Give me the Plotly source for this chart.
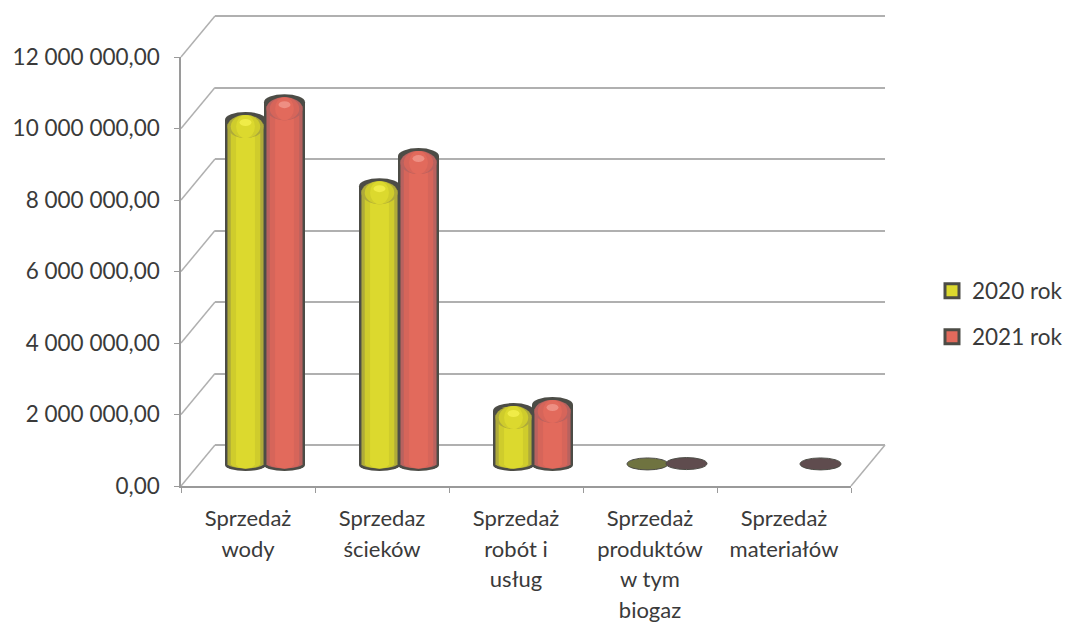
import plotly.graph_objects as go

categories = ["Sprzedaż wody", "Sprzedaz ścieków", "Sprzedaż robót i usług",
              "Sprzedaż produktów w tym biogaz", "Sprzedaż materiałów"]
category_lines = [["Sprzedaż", "wody"], ["Sprzedaz", "ścieków"], ["Sprzedaż", "robót i", "usług"],
                  ["Sprzedaż", "produktów", "w tym", "biogaz"], ["Sprzedaż", "materiałów"]]
values_2020 = [9650000, 7800000, 1510000, 30000, None]
values_2021 = [10150000, 8640000, 1680000, 40000, 30000]
y_ticks = [0, 2000000, 4000000, 6000000, 8000000, 10000000, 12000000]
y_tick_labels = ["0,00", "2 000 000,00", "4 000 000,00", "6 000 000,00",
                 "8 000 000,00", "10 000 000,00", "12 000 000,00"]

W, H = 1068, 623
FONT = "Lato"
TXT = "#3a3a3a"
GRID = "#b0b0b0"
AXIS = "#9a9a9a"
EDGE = "#4c4c46"
LEFT, RIGHT = 181, 851
FRONT_Y0, FRONT_Y12 = 486, 57
DX, DY = 34, 41
PX_PER_VAL = (FRONT_Y0 - FRONT_Y12) / 12000000
BAR_W = 41
CAT_W = (RIGHT - LEFT) / 5
STEP = 39 / CAT_W
BW = BAR_W / CAT_W
PAD = 200000


def dx(l, r):
    return [l / W, r / W]


def dy(top, bot):
    return [1 - bot / H, 1 - top / H]


def px(x):
    return x / W


def py(y):
    return 1 - y / H


fig = go.Figure()
x_range = [-0.5, 4.5]
y_range = [0, 12000000]
styles = {
    "2020 rok": dict(vals=values_2020, shift=-STEP / 2, base="#aeaa3a", mid="#cfcc2c", core="#dcd92e",
                     hi="#f0ec48", tiny="#6f7340"),
    "2021 rok": dict(vals=values_2021, shift=STEP / 2, base="#b8625f", mid="#d6655a", core="#e26a5c",
                     hi="#ee8f83", tiny="#5f4c4e"),
}

# back wall and front axis subplots (empty traces keep the axes alive)
fig.add_trace(go.Scatter(x=categories, y=[None] * 5, xaxis="x", yaxis="y", showlegend=False, hoverinfo="skip"))
fig.add_trace(go.Scatter(x=categories, y=[None] * 5, xaxis="x2", yaxis="y2", showlegend=False, hoverinfo="skip"))

shapes = []
for i, (name, s) in enumerate(styles.items()):
    legend_id = "legend" if i == 0 else "legend2"
    visible_vals = [v if (v or 0) >= 100000 else None for v in s["vals"]]
    layers = ((1.0, EDGE), (0.88, s["base"]), (0.72, s["mid"]), (0.46, s["core"]))
    for n, (frac, col) in enumerate(layers):
        fig.add_trace(go.Bar(x=categories, y=visible_vals, name=name, width=BW * frac,
                             offset=s["shift"] - BW * frac / 2, xaxis="x3", yaxis="y3",
                             showlegend=False, hoverinfo="skip" if n else None,
                             marker=dict(color=col, line=dict(width=0))))
    # legend swatch
    fig.add_trace(go.Scatter(x=categories, y=[None] * 5, name=name, mode="markers", xaxis="x3", yaxis="y3",
                             legend=legend_id, hoverinfo="skip",
                             marker=dict(symbol="square", size=14, color=s["core"], line=dict(color=EDGE, width=3))))
    for c, v in zip(categories, s["vals"]):
        if not v:
            continue
        cx = categories.index(c) + s["shift"]
        common = dict(type="circle", xref="x3", yref="y3", xsizemode="pixel", ysizemode="pixel", xanchor=cx)
        if v < 100000:
            shapes.append(dict(common, yanchor=v, x0=-BAR_W / 2, x1=BAR_W / 2, y0=-6, y1=6, layer="above",
                               fillcolor=s["tiny"], line=dict(color=EDGE, width=1)))
            continue
        # bottom of the cylinder, below the body so only the lower half shows
        shapes.append(dict(common, yanchor=0, x0=-BAR_W / 2, x1=BAR_W / 2, y0=-6, y1=6, layer="below",
                           fillcolor=EDGE, line=dict(width=0)))
        for frac, col in layers[1:]:
            half = BAR_W * frac / 2
            shapes.append(dict(common, yanchor=0, x0=-half, x1=half, y0=-3.5, y1=6, layer="below",
                               fillcolor=col, line=dict(width=0)))
        # top of the cylinder: dark rim then the same colour bands as the body
        shapes.append(dict(common, yanchor=v, x0=-BAR_W / 2, x1=BAR_W / 2, y0=-8, y1=8, layer="above",
                           fillcolor=EDGE, line=dict(width=0)))
        for frac, col in layers[1:]:
            half = BAR_W * frac / 2
            shapes.append(dict(common, yanchor=v, x0=-half, x1=half, y0=-18, y1=5, layer="above",
                               fillcolor=col, line=dict(width=0)))
        shapes.append(dict(common, yanchor=v, x0=-6, x1=6, y0=-6, y1=1, layer="above",
                           fillcolor=s["hi"], line=dict(width=0)))

# perspective edges of the walls and floor
for t in y_ticks:
    yp = FRONT_Y0 - t * PX_PER_VAL
    shapes.append(dict(type="line", xref="paper", yref="paper", x0=px(LEFT), x1=px(LEFT + DX), y0=py(yp), y1=py(yp - DY),
                       line=dict(color=GRID, width=1.5), layer="below"))
shapes.append(dict(type="line", xref="paper", yref="paper", x0=px(RIGHT), x1=px(RIGHT + DX),
                   y0=py(FRONT_Y0), y1=py(FRONT_Y0 - DY), line=dict(color=GRID, width=1.5), layer="below"))

tick_text = ["<br>".join(f'<span style="font-size:22px">{w}</span>' for w in lines) for lines in category_lines]

cat = dict(type="category", categoryorder="array", categoryarray=categories, range=x_range)
pad_px = PAD * PX_PER_VAL

fig.update_layout(
    width=W, height=H, autosize=False,
    margin=dict(l=0, r=0, t=0, b=0),
    paper_bgcolor="#ffffff", plot_bgcolor="rgba(0,0,0,0)",
    font=dict(family=FONT, size=22, color=TXT),
    showlegend=True,
    barmode="overlay",
    xaxis=dict(**cat, domain=dx(LEFT + DX, RIGHT + DX), anchor="y", visible=False),
    yaxis=dict(range=[-PAD, 12000000 + PAD],
               domain=dy(FRONT_Y12 - DY - pad_px, FRONT_Y0 - DY + pad_px), anchor="x", tickmode="array", tickvals=y_ticks,
               showticklabels=False, ticks="", showgrid=True, gridcolor=GRID, gridwidth=1.5,
               zeroline=False, showline=False),
    xaxis2=dict(**cat, domain=dx(LEFT, RIGHT), anchor="y2", showgrid=False, zeroline=False, showline=True,
                linecolor=AXIS, linewidth=1.5, ticks="outside", ticklen=5, tickcolor=AXIS, tickson="boundaries",
                tickmode="array", tickvals=categories, ticktext=tick_text, tickangle=0, ticklabelstandoff=10,
                tickfont=dict(family=FONT, size=23.5, color=TXT), automargin=False),
    yaxis2=dict(range=y_range, domain=dy(FRONT_Y12, FRONT_Y0), anchor="x2", tickmode="array", tickvals=y_ticks,
                ticktext=y_tick_labels, showgrid=False, zeroline=False, showline=True, linecolor=AXIS, linewidth=1.5,
                ticks="outside", ticklen=5, tickcolor=AXIS, ticklabelstandoff=10,
                tickfont=dict(family=FONT, size=22.5, color=TXT), automargin=False),
    xaxis3=dict(**cat, domain=dx(LEFT + 17, RIGHT + 17), anchor="y3", visible=False),
    yaxis3=dict(range=[-1000000, 12000000],
                domain=dy(FRONT_Y12 - 21, FRONT_Y0 - 21 + 1000000 * PX_PER_VAL), anchor="x3", visible=False),
    legend=dict(x=1, y=py(291), xanchor="right", yanchor="middle",
                bgcolor="rgba(0,0,0,0)", font=dict(family=FONT, size=22.5, color=TXT)),
    legend2=dict(x=1, y=py(337), xanchor="right", yanchor="middle",
                 bgcolor="rgba(0,0,0,0)", font=dict(family=FONT, size=22.5, color=TXT)),
    shapes=shapes,
)

fig.write_html("out.html", post_script="document.body.style.margin='0';", config={"displayModeBar": False})
